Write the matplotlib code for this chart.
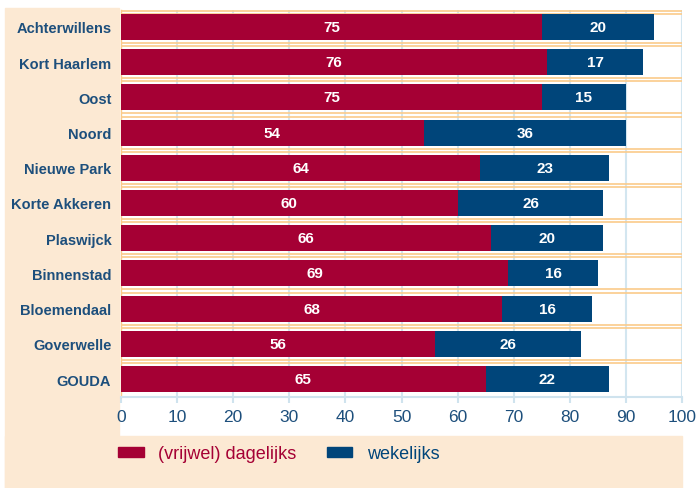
import matplotlib.pyplot as plt
from matplotlib.patches import Rectangle, Patch

plt.rcParams['font.family'] = ['Liberation Sans', 'DejaVu Sans']

wijken = ["Achterwillens", "Kort Haarlem", "Oost", "Noord", "Nieuwe Park",
          "Korte Akkeren", "Plaswijck", "Binnenstad", "Bloemendaal",
          "Goverwelle", "GOUDA"]
dagelijks = [75, 76, 75, 54, 64, 60, 66, 69, 68, 56, 65]
wekelijks = [20, 17, 15, 36, 23, 26, 20, 16, 16, 26, 22]
xticks = [0, 10, 20, 30, 40, 50, 60, 70, 80, 90, 100]

red = "#a50034"
blue = "#00457a"
txtblue = "#1d4f7c"
beige = "#fce9d3"
W, H = 698, 489

fig = plt.figure(figsize=(W / 100, H / 100), dpi=100)
# beige L-shaped background
fig.patches.append(Rectangle((5 / W, 0), (119 - 5) / W, (489 - 9) / H,
                             transform=fig.transFigure, color=beige, zorder=-5))
fig.patches.append(Rectangle((5 / W, 0), (682 - 5) / W, (489 - 437) / H,
                             transform=fig.transFigure, color=beige, zorder=-5))

ax = fig.add_axes([121 / W, 1 - 398 / H, (682 - 121) / W, (398 - 11) / H])
ax.set_facecolor("none")

y = list(range(len(wijken)))
ax.barh(y, dagelijks, height=0.74, color=red, zorder=3)
ax.barh(y, wekelijks, left=dagelijks, height=0.74, color=blue, zorder=3)

for i in y:
    ax.text(dagelijks[i] / 2, i, str(dagelijks[i]), color="white",
            ha="center", va="center", fontsize=11, fontweight="bold", zorder=4)
    ax.text(dagelijks[i] + wekelijks[i] / 2, i, str(wekelijks[i]), color="white",
            ha="center", va="center", fontsize=11, fontweight="bold", zorder=4)

ax.set_xlim(0, 100)
ax.set_ylim(10.51, -0.48)

# grid lines
for x in xticks[1:]:
    ax.axvline(x, color="#d3e6f0", lw=1.5, zorder=1)
for k in range(-1, 10):
    yy = k + 0.5 if k >= 0 else -0.42
    ax.axhline(yy - 0.045, color="#fbcb8a", lw=1.2, zorder=2)
    ax.axhline(yy + 0.045, color="#fbcb8a", lw=1.2, zorder=2)

ax.set_xticks(xticks)
ax.set_xticklabels([str(v) for v in xticks], fontsize=12.5, color=txtblue)
ax.tick_params(axis="x", length=4, color="#cfe3ee", width=1.5, pad=5)
ax.set_yticks(y)
ax.set_yticklabels(wijken, fontsize=10.5, fontweight="bold", color=txtblue)
ax.tick_params(axis="y", length=0, pad=7)

for s in ["top", "right"]:
    ax.spines[s].set_visible(False)
ax.spines["bottom"].set_color("#cfe3ee")
ax.spines["bottom"].set_linewidth(1.5)
ax.spines["left"].set_color("#fbcb8a")
ax.spines["left"].set_linewidth(1)

handles = [Patch(color=red), Patch(color=blue)]
fig.legend(handles, ["(vrijwel) dagelijks", "wekelijks"], loc="center left",
           bbox_to_anchor=(102 / W, 1 - 455 / H), ncol=2, frameon=False,
           fontsize=13, labelcolor=[red, blue], handlelength=1.4,
           handleheight=0.5, handletextpad=0.8, columnspacing=1.7)

fig.savefig("out.png", dpi=100)
